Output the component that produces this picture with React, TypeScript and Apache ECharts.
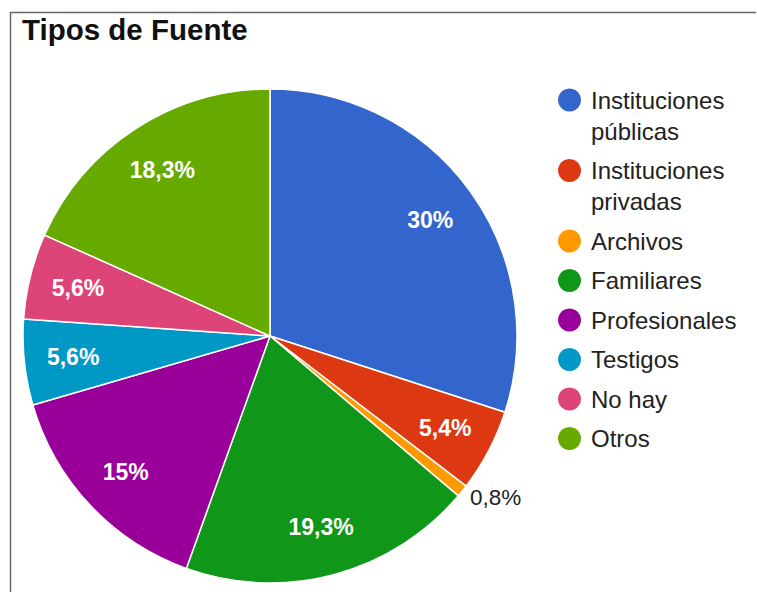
import React, { useEffect, useRef } from "react";
import * as echarts from "echarts";

const titleText = "Tipos de Fuente";
const categories = [
  "Instituciones públicas",
  "Instituciones privadas",
  "Archivos",
  "Familiares",
  "Profesionales",
  "Testigos",
  "No hay",
  "Otros",
];
const legendLabels = [
  "Instituciones\npúblicas",
  "Instituciones\nprivadas",
  "Archivos",
  "Familiares",
  "Profesionales",
  "Testigos",
  "No hay",
  "Otros",
];
const values = [30, 5.4, 0.8, 19.3, 15, 5.6, 5.6, 18.3];
const colors = ["#3366cc", "#dc3912", "#ff9900", "#109618", "#990099", "#0099c6", "#dd4477", "#66aa00"];
const outsideLabelNames = ["Archivos"];

const FONT = "Arial, 'Liberation Sans', sans-serif";

export default function App() {
  const ref = useRef<HTMLDivElement>(null);
  useEffect(() => {
    if (!ref.current) return;
    const chart = echarts.init(ref.current, null, { renderer: "svg" });

    const cx = 270;
    const cy = 336;
    const R = 247;
    const LH = 31;
    const legendStart = 100;
    const legendPitch = 39.5;

    let extra = 0;
    const legends = categories.map((name, i) => {
      const parts = legendLabels[i].split("\n");
      const lines = parts.length;
      const c = legendStart + i * legendPitch + extra * LH;
      extra += lines - 1;
      const top = c - ((2 * lines - 1) * LH) / 2;
      const text =
        lines > 1 ? "{f|" + parts[0] + "}\n" + parts.slice(1).map((p) => "{s|" + p + "}").join("\n") : "{s|" + parts[0] + "}";
      return {
        show: true,
        data: [name],
        orient: "vertical",
        left: 558,
        top,
        padding: 0,
        itemGap: 0,
        itemWidth: 23,
        itemHeight: 23,
        icon: "circle",
        selectedMode: false,
        itemStyle: { borderWidth: 0 },
        formatter: () => text,
        textStyle: {
          fontSize: 24,
          lineHeight: LH,
          color: "#222",
          fontFamily: FONT,
          rich: {
            f: { fontSize: 24, color: "#222", fontFamily: FONT, lineHeight: 2 * LH, height: LH, verticalAlign: "bottom", padding: [0, 0, 0, 5] },
            s: { fontSize: 24, color: "#222", fontFamily: FONT, lineHeight: LH, padding: [0, 0, 0, 5] },
          },
        },
      };
    });

    const fmt = (v: number) => String(v).replace(".", ",") + "%";

    chart.setOption({
      animation: false,
      backgroundColor: "#ffffff",
      title: {
        text: titleText,
        left: 22,
        top: 14.5,
        padding: 0,
        textStyle: { fontSize: 29.5, fontWeight: "bold", color: "#111", fontFamily: FONT },
      },
      legend: legends,
      graphic: [
        { type: "line", shape: { x1: 10, y1: 12.5, x2: 756, y2: 12.5 }, style: { stroke: "#666", lineWidth: 1.5 }, silent: true },
        { type: "line", shape: { x1: 10.5, y1: 12, x2: 10.5, y2: 592 }, style: { stroke: "#666", lineWidth: 1.5 }, silent: true },
      ],
      series: [
        {
          type: "pie",
          name: "main",
          center: [cx, cy],
          radius: [0, R],
          startAngle: 90,
          clockwise: true,
          avoidLabelOverlap: false,
          label: { show: false },
          labelLine: { show: false },
          itemStyle: { borderColor: "#ffffff", borderWidth: 1.5 },
          data: categories.map((name, i) => ({
            name,
            value: values[i],
            itemStyle: { color: colors[i] },
          })),
        },
        {
          type: "pie",
          name: "labels",
          center: [cx, cy],
          radius: [143, R],
          startAngle: 90,
          clockwise: true,
          silent: true,
          z: 5,
          avoidLabelOverlap: false,
          itemStyle: { color: "rgba(0,0,0,0)", borderWidth: 0 },
          label: {
            show: true,
            position: "inside",
            formatter: (p: any) => fmt(p.value),
            color: "#ffffff",
            fontSize: 23,
            fontWeight: "bold",
            fontFamily: FONT,
          },
          labelLine: { show: false },
          data: categories.map((name, i) => {
            const outside = outsideLabelNames.includes(name);
            return {
              name,
              value: values[i],
              label: outside
                ? {
                    position: "outside",
                    color: "#222",
                    fontWeight: "normal",
                    fontSize: 22.5,
                    distanceToLabelLine: 0,
                  }
                : undefined,
              labelLine: outside ? { show: false, length: 10, length2: 0 } : undefined,
            };
          }),
        },
      ],
    });
    return () => chart.dispose();
  }, []);
  return (
    <div
      ref={ref}
      style={{ position: "fixed", left: 0, top: 0, width: 757, height: 592, background: "#fff" }}
    />
  );
}
